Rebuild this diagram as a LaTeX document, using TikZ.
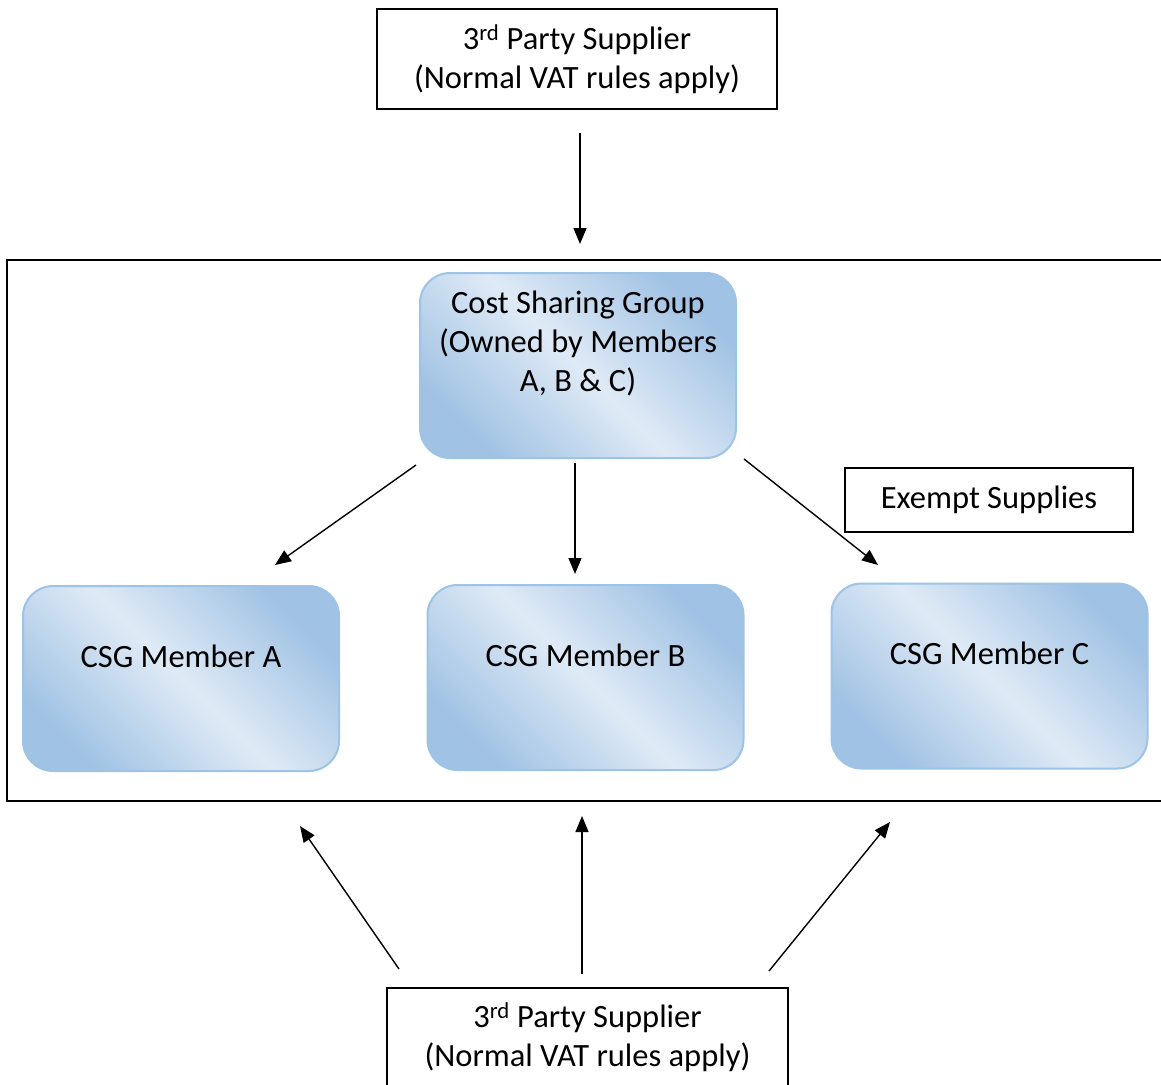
\documentclass[tikz,border=0pt]{standalone}
\usepackage{fontspec}
\setmainfont{Carlito}
\usetikzlibrary{arrows.meta}
\definecolor{bdark}{RGB}{160,194,228}
\definecolor{blight}{RGB}{223,234,246}
\definecolor{bedge}{RGB}{157,195,230}
\begin{document}
\begin{tikzpicture}[x=1pt,y=-1pt,
  every node/.style={font=\fontsize{32.5}{39}\selectfont},
  plainbox/.style={draw=black, line width=1.4pt, fill=white, inner sep=0pt, align=center},
  bluebox/.style={draw=bedge, line width=2pt, rounded corners=30pt, inner sep=0pt,
     minimum width=316pt, minimum height=185pt,
     left color=bdark, right color=bdark, middle color=blight, shading angle=-45},
  arr/.style={line width=1.4pt, -{Triangle[length=16pt,width=13pt]}}
]
\useasboundingbox (0,0) rectangle (1161,1084);
% container
\draw[line width=1.2pt] (1165,260) -- (7,260) -- (7,801) -- (1165,801);
% supplier boxes
\node[plainbox, minimum width=400pt, minimum height=100pt] (top) at (577,59)
  {3\textsuperscript{rd} Party Supplier\\(Normal VAT rules apply)};
\node[plainbox, minimum width=401pt, minimum height=99pt] (bot) at (587.5,1037.5)
  {3\textsuperscript{rd} Party Supplier\\(Normal VAT rules apply)};
\node[plainbox, minimum width=288pt, minimum height=64pt] (ex) at (989,500) {Exempt Supplies};
% blue boxes
\node[bluebox, label={[yshift=22pt, align=center]center:Cost Sharing Group\\(Owned by Members\\A, B \& C)}] (csg) at (578,365.5) {};
\node[bluebox, label={[yshift=22.5pt]center:CSG Member A}] (ma) at (181,678.5) {};
\node[bluebox, label={[yshift=22.5pt]center:CSG Member B}] (mb) at (585.5,677.5) {};
\node[bluebox, label={[yshift=23pt]center:CSG Member C}] (mc) at (989.5,676) {};
% arrow end points
\coordinate (t1) at (580,133); \coordinate (t2) at (580,244);
\coordinate (a1) at (416,465); \coordinate (a2) at (275,565);
\coordinate (b1) at (575,463); \coordinate (b2) at (575,574);
\coordinate (c1) at (744,459); \coordinate (c2) at (878,565);
\coordinate (d1) at (399,969); \coordinate (d2) at (300,826);
\coordinate (e1) at (582,974); \coordinate (e2) at (582,816);
\coordinate (f1) at (769,971); \coordinate (f2) at (890,822);
\draw[arr] (t1) -- (t2);
\draw[arr] (a1) -- (a2);
\draw[arr] (b1) -- (b2);
\draw[arr] (c1) -- (c2);
\draw[arr] (d1) -- (d2);
\draw[arr] (e1) -- (e2);
\draw[arr] (f1) -- (f2);
\end{tikzpicture}
\end{document}
